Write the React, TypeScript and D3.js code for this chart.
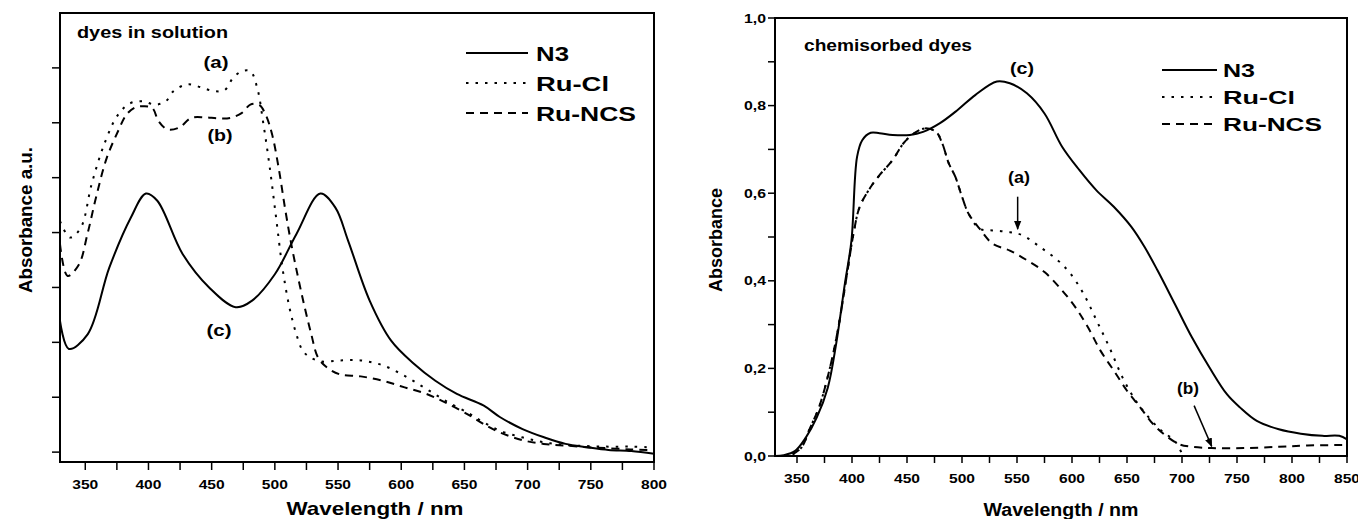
import React from "react";
import * as d3 from "d3";

// ---------- Left panel: dyes in solution ----------
const L_N3_NM = [330, 337, 352, 369, 386, 398, 407, 427, 448, 469, 482, 500, 517, 536, 548, 558, 575, 592, 610, 627, 644, 665, 678, 696, 713, 730, 747, 764, 782, 800];
const L_N3_A = [0.239, 0.188, 0.215, 0.336, 0.427, 0.471, 0.458, 0.361, 0.300, 0.264, 0.276, 0.324, 0.397, 0.471, 0.445, 0.385, 0.276, 0.203, 0.161, 0.130, 0.106, 0.085, 0.064, 0.042, 0.027, 0.015, 0.009, 0.004, 0.002, -0.003];

const L_RUCL_NM = [330, 338, 346.5, 355, 365, 376, 386, 396, 405, 413.6, 420, 431, 441, 451, 460, 467, 474, 480.6, 486, 491, 496, 501, 506, 511.5, 517, 522, 527.7, 537, 551, 568, 585.5, 602.7, 620, 637, 654, 664.6, 678, 695.5, 712.7, 730, 747, 764, 781.5, 795];
const L_RUCL_A = [0.421, 0.391, 0.409, 0.488, 0.561, 0.615, 0.636, 0.639, 0.633, 0.639, 0.658, 0.670, 0.665, 0.658, 0.659, 0.682, 0.694, 0.694, 0.664, 0.597, 0.518, 0.427, 0.336, 0.264, 0.215, 0.185, 0.173, 0.165, 0.167, 0.167, 0.158, 0.139, 0.115, 0.091, 0.070, 0.055, 0.039, 0.027, 0.018, 0.013, 0.011, 0.010, 0.010, 0.009];

const L_RUNCS_NM = [330, 336, 345, 351.7, 358.5, 367, 376, 382.6, 389.5, 396, 403, 408, 415, 424, 434, 444.5, 455, 465, 474, 480.6, 487.5, 492.7, 497.8, 503, 508, 513, 518.4, 523.6, 528.8, 534, 540.8, 551, 568, 585.5, 602.7, 620, 637, 654, 664.6, 678, 695.5, 712.7, 730, 747, 764, 781.5, 795];
const L_RUNCS_A = [0.379, 0.321, 0.342, 0.397, 0.464, 0.536, 0.585, 0.615, 0.628, 0.630, 0.627, 0.603, 0.588, 0.591, 0.609, 0.610, 0.608, 0.609, 0.618, 0.633, 0.633, 0.615, 0.579, 0.518, 0.445, 0.379, 0.318, 0.264, 0.215, 0.173, 0.155, 0.142, 0.138, 0.130, 0.118, 0.106, 0.088, 0.067, 0.052, 0.036, 0.022, 0.015, 0.012, 0.009, 0.007, 0.005, 0.004];

// ---------- Right panel: chemisorbed dyes ----------
const R_N3_NM = [330, 338, 348, 358, 368, 378, 385.6, 393.5, 399.5, 404.6, 409.3, 417, 425, 437, 452.7, 464.6, 480, 496, 512, 531.7, 543.5, 559, 575, 591, 606.6, 622, 638, 654, 666, 677.7, 693.5, 709, 725, 740.8, 752.6, 768, 788, 808, 827.6, 843, 850];
const R_N3_A = [0.0, 0.002, 0.011, 0.042, 0.088, 0.156, 0.256, 0.393, 0.492, 0.683, 0.721, 0.738, 0.737, 0.733, 0.733, 0.740, 0.760, 0.790, 0.824, 0.855, 0.851, 0.828, 0.782, 0.706, 0.653, 0.607, 0.569, 0.523, 0.477, 0.424, 0.347, 0.271, 0.202, 0.141, 0.111, 0.080, 0.061, 0.051, 0.046, 0.046, 0.038];

const R_RUCL_NM = [346, 354, 362, 370, 380, 387.6, 395.5, 401.4, 407, 417, 425, 437, 446.8, 456.7, 466.5, 476.4, 482, 488, 494, 500, 506, 516, 527.7, 543.5, 555, 571, 587, 598.7, 610.6, 622.4, 634, 646, 658, 669.8, 681.6, 693.5, 701];
const R_RUCL_A = [0.004, 0.019, 0.065, 0.111, 0.202, 0.294, 0.416, 0.508, 0.569, 0.614, 0.641, 0.676, 0.714, 0.737, 0.748, 0.740, 0.714, 0.668, 0.637, 0.592, 0.553, 0.519, 0.515, 0.511, 0.504, 0.477, 0.447, 0.416, 0.370, 0.309, 0.248, 0.179, 0.126, 0.088, 0.057, 0.034, 0.0];

const R_RUNCS_NM = [346, 354, 362, 370, 380, 387.6, 395.5, 401.4, 407, 417, 425, 437, 446.8, 456.7, 466.5, 476.4, 482, 488, 494, 500, 506, 516, 527.7, 543.5, 559, 575, 591, 603, 614.5, 626, 638, 650, 662, 673.7, 685.6, 697.4, 709, 727, 756, 788, 814, 850];
const R_RUNCS_A = [0.004, 0.019, 0.065, 0.111, 0.202, 0.294, 0.416, 0.508, 0.569, 0.614, 0.641, 0.676, 0.714, 0.737, 0.748, 0.740, 0.714, 0.668, 0.637, 0.592, 0.553, 0.519, 0.485, 0.469, 0.447, 0.420, 0.378, 0.340, 0.294, 0.240, 0.195, 0.149, 0.111, 0.073, 0.046, 0.027, 0.021, 0.018, 0.018, 0.021, 0.024, 0.025];

const LEGEND_NAMES = ["N3", "Ru-Cl", "Ru-NCS"];
const LEGEND_WIDTHS = [33, 73, 100];
const DASHES = ["none", "2.5,7", "8,6"];

const L_X_TICKS = [350, 400, 450, 500, 550, 600, 650, 700, 750, 800];
const R_X_TICKS = [350, 400, 450, 500, 550, 600, 650, 700, 750, 800, 850];
const R_Y_TICKS = [0, 0.2, 0.4, 0.6, 0.8, 1.0];
const L_Y_TICKS = [0, 0.1, 0.2, 0.3, 0.4, 0.5, 0.6, 0.7];

const FONT = "'Liberation Sans', Arial, sans-serif";

function zip(nm: number[], a: number[]): [number, number][] {
  return nm.map((n, i) => [n, a[i]]);
}

type TProps = {
  x: number;
  y: number;
  size: number;
  w?: number;
  anchor?: "start" | "middle" | "end";
  rotate?: boolean;
  children: React.ReactNode;
};

function T({ x, y, size, w, anchor = "start", rotate, children }: TProps) {
  const extra = w ? { textLength: w, lengthAdjust: "spacingAndGlyphs" } : {};
  return (
    <text
      transform={rotate ? `translate(${x},${y}) rotate(-90)` : undefined}
      x={rotate ? 0 : x}
      y={rotate ? 0 : y}
      textAnchor={anchor}
      fontSize={size}
      fontFamily={FONT}
      fontWeight={700}
      fill="#000"
      {...(extra as any)}
    >
      {children}
    </text>
  );
}

export default function App() {
  const xL = d3.scaleLinear().domain([330, 800]).range([60, 654]);
  const yL = d3.scaleLinear().domain([-0.018, 0.8]).range([462, 13]);
  const xR = d3.scaleLinear().domain([330, 850]).range([775, 1347]);
  const yR = d3.scaleLinear().domain([0, 1.0]).range([456, 18]);

  const lineL = d3.line<[number, number]>().x((d) => xL(d[0])).y((d) => yL(d[1])).curve(d3.curveCatmullRom.alpha(0.5));
  const lineR = d3.line<[number, number]>().x((d) => xR(d[0])).y((d) => yR(d[1])).curve(d3.curveCatmullRom.alpha(0.5));

  const leftSeries = [zip(L_N3_NM, L_N3_A), zip(L_RUCL_NM, L_RUCL_A), zip(L_RUNCS_NM, L_RUNCS_A)];
  const rightSeries = [zip(R_N3_NM, R_N3_A), zip(R_RUCL_NM, R_RUCL_A), zip(R_RUNCS_NM, R_RUNCS_A)];

  const lMinor = d3.range(350, 801, 25);
  const rMinor = d3.range(350, 851, 25);
  const rYMinor = d3.range(0, 1.001, 0.1);

  return (
    <svg width={1358} height={519} style={{ position: "absolute", left: 0, top: 0, background: "#fff" }}>
      <defs>
        <marker id="arr" viewBox="0 0 10 10" refX="9" refY="5" markerWidth="6" markerHeight="6" orient="auto">
          <path d="M0,1 L10,5 L0,9 z" fill="#000" />
        </marker>
      </defs>

      {/* ---------- LEFT PANEL ---------- */}
      <rect x={60} y={13} width={594} height={449} fill="none" stroke="#000" strokeWidth={2} />
      {lMinor.map((t) => (
        <line key={"lxm" + t} x1={xL(t)} x2={xL(t)} y1={462} y2={470} stroke="#000" strokeWidth={1.5} />
      ))}
      {L_X_TICKS.map((t) => (
        <T key={"lxl" + t} x={xL(t)} y={489} size={13} w={26} anchor="middle">{t}</T>
      ))}
      {L_Y_TICKS.map((t) => (
        <line key={"lyt" + t} x1={52} x2={60} y1={yL(t)} y2={yL(t)} stroke="#000" strokeWidth={1.5} />
      ))}
      <T x={375} y={515} size={19} w={177} anchor="middle">Wavelength / nm</T>
      <T x={32} y={220} size={19} w={146} anchor="middle" rotate>Absorbance a.u.</T>

      {leftSeries.map((s, i) => (
        <path key={"ls" + i} d={lineL(s) || ""} fill="none" stroke="#000" strokeWidth={2} strokeDasharray={DASHES[i]} />
      ))}

      <T x={77} y={38} size={17} w={151}>dyes in solution</T>
      <T x={216} y={68} size={17} w={25} anchor="middle">(a)</T>
      <T x={220} y={141} size={17} w={25} anchor="middle">(b)</T>
      <T x={219} y={336} size={17} w={25} anchor="middle">(c)</T>

      {LEGEND_NAMES.map((n, i) => (
        <g key={"lleg" + i}>
          <line x1={466} x2={528} y1={53 + i * 30} y2={53 + i * 30} stroke="#000" strokeWidth={2} strokeDasharray={DASHES[i]} />
          <T x={536} y={53 + i * 30 + 7.5} size={20} w={LEGEND_WIDTHS[i]}>{n}</T>
        </g>
      ))}

      {/* ---------- RIGHT PANEL ---------- */}
      <rect x={775} y={18} width={572} height={438} fill="none" stroke="#000" strokeWidth={2} />
      {rMinor.map((t) => (
        <line key={"rxm" + t} x1={xR(t)} x2={xR(t)} y1={456} y2={463} stroke="#000" strokeWidth={1.5} />
      ))}
      {R_X_TICKS.map((t) => (
        <T key={"rxl" + t} x={xR(t)} y={483} size={13} w={26} anchor="middle">{t}</T>
      ))}
      {rYMinor.map((t, i) => (
        <line key={"rym" + i} x1={768} x2={775} y1={yR(t)} y2={yR(t)} stroke="#000" strokeWidth={1.5} />
      ))}
      {R_Y_TICKS.map((t) => (
        <T key={"ryl" + t} x={766} y={yR(t) + 4.5} size={13} w={22} anchor="end">
          {d3.format(".1f")(t).replace(".", ",")}
        </T>
      ))}
      <T x={1061} y={516} size={18} w={155} anchor="middle">Wavelength / nm</T>
      <T x={722} y={240} size={18} w={104} anchor="middle" rotate>Absorbance</T>

      {rightSeries.map((s, i) => (
        <path key={"rs" + i} d={lineR(s) || ""} fill="none" stroke="#000" strokeWidth={2} strokeDasharray={DASHES[i]} />
      ))}

      <T x={804} y={51} size={16} w={168}>chemisorbed dyes</T>
      <T x={1022} y={74} size={17} w={24} anchor="middle">(c)</T>
      <T x={1019} y={183} size={17} w={22} anchor="middle">(a)</T>
      <line x1={xR(550.6)} x2={xR(550.6)} y1={yR(0.592)} y2={yR(0.518)} stroke="#000" strokeWidth={1.5} markerEnd="url(#arr)" />
      <T x={1188} y={394} size={17} w={22} anchor="middle">(b)</T>
      <line x1={xR(711)} x2={xR(727)} y1={yR(0.115)} y2={yR(0.022)} stroke="#000" strokeWidth={1.5} markerEnd="url(#arr)" />

      {LEGEND_NAMES.map((n, i) => (
        <g key={"rleg" + i}>
          <line x1={1162} x2={1217} y1={70 + i * 27} y2={70 + i * 27} stroke="#000" strokeWidth={2} strokeDasharray={DASHES[i]} />
          <T x={1223} y={70 + i * 27 + 7} size={19} w={LEGEND_WIDTHS[i] - 1}>{n}</T>
        </g>
      ))}
    </svg>
  );
}
